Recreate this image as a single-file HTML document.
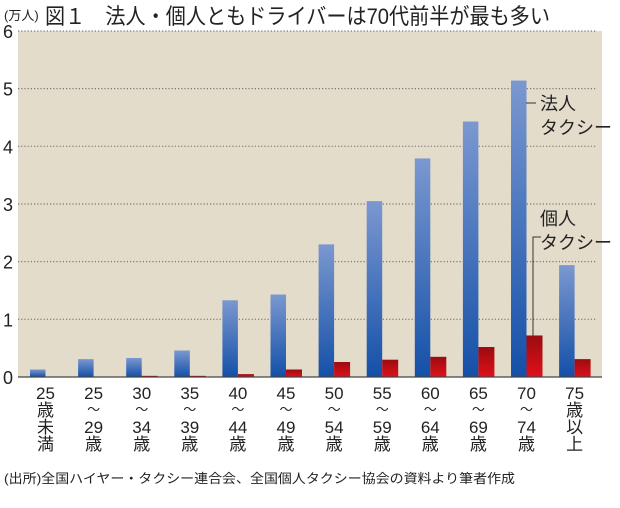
<!DOCTYPE html>
<html><head><meta charset="utf-8"><style>
body{margin:0;background:#fff;}
svg{display:block;font-family:"Liberation Sans","Noto Sans CJK JP",sans-serif;}
</style></head><body>
<svg id="c" width="620" height="508" xmlns="http://www.w3.org/2000/svg">
<defs>
<linearGradient id="gb" x1="0" y1="0" x2="0" y2="1"><stop offset="0" stop-color="#7b98d0"/><stop offset="1" stop-color="#1450a8"/></linearGradient>
<linearGradient id="gr" x1="0" y1="0" x2="0" y2="1"><stop offset="0" stop-color="#9a0c10"/><stop offset="1" stop-color="#e0101a"/></linearGradient>
</defs>
<rect x="18" y="31" width="584" height="346" fill="#e3dccb"/>
<text x="4" y="20" font-size="13" fill="#222">(万人)</text>
<text x="45" y="24" font-size="22" fill="#222" textLength="505" lengthAdjust="spacingAndGlyphs">図１　法人・個人ともドライバーは70代前半が最も多い</text>
<g id="grid"></g><g id="bars"></g><g id="xl"></g>
<line x1="18" y1="377" x2="602" y2="377" stroke="#444" stroke-width="1.2"/>
<line x1="526" y1="103" x2="536" y2="103" stroke="#333"/>
<text x="540" y="110" font-size="18" fill="#222">法人</text>
<text x="540" y="134" font-size="18" fill="#222">タクシー</text>
<polyline points="533,336 533,237 541,237" fill="none" stroke="#333"/>
<text x="540" y="225" font-size="18" fill="#222">個人</text>
<text x="540" y="249" font-size="18" fill="#222">タクシー</text>
<text x="4" y="483" font-size="13" fill="#222" textLength="511" lengthAdjust="spacingAndGlyphs">(出所)全国ハイヤー・タクシー連合会、全国個人タクシー協会の資料より筆者作成</text>
</svg>
<script>
const categories=[["25","歳","未","満"],["25","～","29","歳"],["30","～","34","歳"],["35","～","39","歳"],["40","～","44","歳"],["45","～","49","歳"],["50","～","54","歳"],["55","～","59","歳"],["60","～","64","歳"],["65","～","69","歳"],["70","～","74","歳"],["75","歳","以","上"]];
const corporate=[0.13,0.31,0.33,0.46,1.33,1.43,2.3,3.05,3.79,4.43,5.14,1.94];
const individual=[0,0,0.02,0.02,0.05,0.13,0.26,0.3,0.35,0.52,0.72,0.31];
const yTicks=[0,1,2,3,4,5,6];
const NS="http://www.w3.org/2000/svg";
const y=v=>377-v*57.67;
const x=i=>30+48.1*i;
function mk(t,a,p){const e=document.createElementNS(NS,t);for(const k in a)e.setAttribute(k,a[k]);p.appendChild(e);return e;}
const grid=document.getElementById('grid');
yTicks.forEach(t=>{
  if(t>0){const l=mk('line',{x1:18,x2:596,y1:y(t),y2:y(t),stroke:'#777','stroke-width':1.2,'stroke-dasharray':'1.2 2'},grid);
  
  }
  const tx=mk('text',{x:3,y:y(t)+7,'font-size':18,fill:'#222'},grid);tx.textContent=t;
  
  
});
const bars=document.getElementById('bars');
categories.forEach((c,i)=>{
  const b=mk('rect',{x:x(i),y:y(corporate[i]),width:15.5,height:377-y(corporate[i]),fill:'url(#gb)'},bars);
  
  
  if(individual[i]>0){const r=mk('rect',{x:x(i)+15.5,y:y(individual[i]),width:16,height:377-y(individual[i]),fill:'url(#gr)'},bars);
  
  }
  const xl=document.getElementById('xl');
  c.forEach((s,j)=>{const t=mk('text',{x:x(i)+15.5,y:399+j*17,'font-size':17,fill:'#222','text-anchor':'middle'},xl);
  if(s==='～'){t.setAttribute('font-size','13');t.setAttribute('y',397+j*17);}
  t.textContent=s;
  
  });
});
</script>
</body></html>
